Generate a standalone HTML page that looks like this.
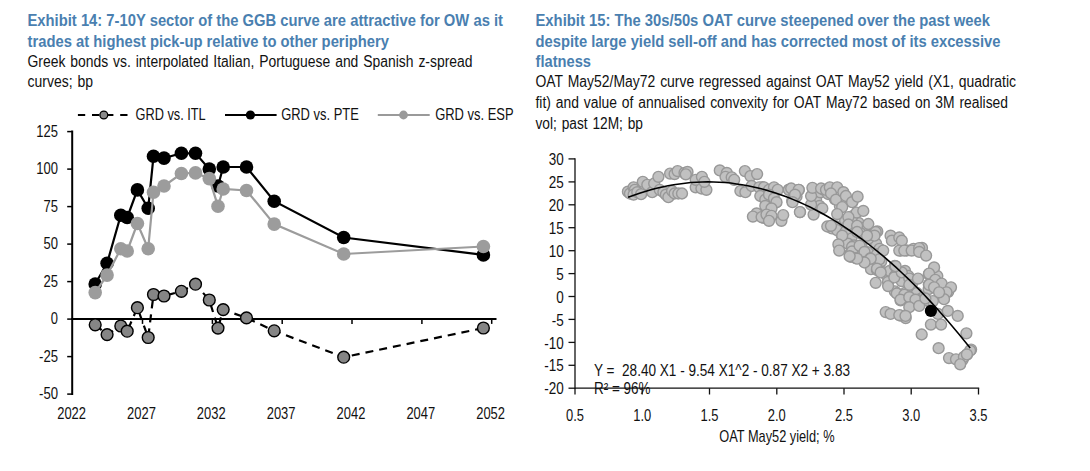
<!DOCTYPE html><html><head><meta charset="utf-8"><title>Exhibits</title><style>
html,body{margin:0;padding:0;background:#fff}
svg{display:block}
text{font-family:"Liberation Sans",sans-serif}
.t{font-weight:bold;fill:#4a7fb0;font-size:16.9px}
.s{fill:#111;font-size:16px;word-spacing:1.2px}
.a{fill:#111;font-size:16.4px}
</style></head><body>
<svg width="1090" height="471" viewBox="0 0 1090 471">
<rect width="1090" height="471" fill="#fff"/>
<text class="t" x="27.5" y="26" textLength="475.5" lengthAdjust="spacingAndGlyphs">Exhibit 14: 7-10Y sector of the GGB curve are attractive for OW as it</text>
<text class="t" x="27.5" y="46.9" textLength="361.5" lengthAdjust="spacingAndGlyphs">trades at highest pick-up relative to other periphery</text>
<text class="s" x="27.5" y="67.2" textLength="445.0" lengthAdjust="spacingAndGlyphs">Greek bonds vs. interpolated Italian, Portuguese and Spanish z-spread</text>
<text class="s" x="27.5" y="86.8" textLength="65.5" lengthAdjust="spacingAndGlyphs">curves; bp</text>
<line x1="77.9" y1="115" x2="128" y2="115" stroke="#000" stroke-width="1.8" stroke-dasharray="7.3 6.8"/>
<circle cx="103.8" cy="115" r="3.9" fill="#8a8a8a" stroke="#000" stroke-width="1.3"/>
<text class="a" x="135.5" y="119.6" textLength="70.2" lengthAdjust="spacingAndGlyphs">GRD vs. ITL</text>
<line x1="225" y1="115" x2="276.6" y2="115" stroke="#000" stroke-width="1.8"/>
<circle cx="250.4" cy="115" r="4.6" fill="#000"/>
<text class="a" x="281.2" y="119.6" textLength="77.6" lengthAdjust="spacingAndGlyphs">GRD vs. PTE</text>
<line x1="377.8" y1="115" x2="429.7" y2="115" stroke="#9a9a9a" stroke-width="1.8"/>
<circle cx="403.5" cy="115" r="4.4" fill="#9a9a9a"/>
<text class="a" x="435.2" y="119.6" textLength="78.4" lengthAdjust="spacingAndGlyphs">GRD vs. ESP</text>
<line x1="72.2" y1="130.60000000000002" x2="72.2" y2="395.1" stroke="#000" stroke-width="2"/>
<line x1="67.2" y1="131.60000000000002" x2="72.2" y2="131.60000000000002" stroke="#000" stroke-width="1.5"/>
<text class="a" x="36.3" y="136.90000000000003" textLength="21.7" lengthAdjust="spacingAndGlyphs">125</text>
<line x1="67.2" y1="169.10000000000002" x2="72.2" y2="169.10000000000002" stroke="#000" stroke-width="1.5"/>
<text class="a" x="36.3" y="174.40000000000003" textLength="21.7" lengthAdjust="spacingAndGlyphs">100</text>
<line x1="67.2" y1="206.60000000000002" x2="72.2" y2="206.60000000000002" stroke="#000" stroke-width="1.5"/>
<text class="a" x="43.5" y="211.90000000000003" textLength="14.5" lengthAdjust="spacingAndGlyphs">75</text>
<line x1="67.2" y1="244.10000000000002" x2="72.2" y2="244.10000000000002" stroke="#000" stroke-width="1.5"/>
<text class="a" x="43.5" y="249.40000000000003" textLength="14.5" lengthAdjust="spacingAndGlyphs">50</text>
<line x1="67.2" y1="281.6" x2="72.2" y2="281.6" stroke="#000" stroke-width="1.5"/>
<text class="a" x="43.5" y="286.90000000000003" textLength="14.5" lengthAdjust="spacingAndGlyphs">25</text>
<line x1="67.2" y1="319.1" x2="72.2" y2="319.1" stroke="#000" stroke-width="1.5"/>
<text class="a" x="50.8" y="324.40000000000003" textLength="7.2" lengthAdjust="spacingAndGlyphs">0</text>
<line x1="67.2" y1="356.6" x2="72.2" y2="356.6" stroke="#000" stroke-width="1.5"/>
<text class="a" x="39.0" y="361.90000000000003" textLength="19.0" lengthAdjust="spacingAndGlyphs">-25</text>
<line x1="67.2" y1="394.1" x2="72.2" y2="394.1" stroke="#000" stroke-width="1.5"/>
<text class="a" x="39.0" y="399.40000000000003" textLength="19.0" lengthAdjust="spacingAndGlyphs">-50</text>
<line x1="71.2" y1="319.1" x2="496.5" y2="319.1" stroke="#000" stroke-width="2"/>
<text class="a" x="57.2" y="419.2" textLength="28.8" lengthAdjust="spacingAndGlyphs">2022</text>
<line x1="142.5" y1="319.1" x2="142.5" y2="323.90000000000003" stroke="#000" stroke-width="1.5"/>
<text class="a" x="127.03500000000003" y="419.2" textLength="28.8" lengthAdjust="spacingAndGlyphs">2027</text>
<line x1="212.4" y1="319.1" x2="212.4" y2="323.90000000000003" stroke="#000" stroke-width="1.5"/>
<text class="a" x="196.87" y="419.2" textLength="28.8" lengthAdjust="spacingAndGlyphs">2032</text>
<line x1="282.2" y1="319.1" x2="282.2" y2="323.90000000000003" stroke="#000" stroke-width="1.5"/>
<text class="a" x="266.705" y="419.2" textLength="28.8" lengthAdjust="spacingAndGlyphs">2037</text>
<line x1="352.0" y1="319.1" x2="352.0" y2="323.90000000000003" stroke="#000" stroke-width="1.5"/>
<text class="a" x="336.54" y="419.2" textLength="28.8" lengthAdjust="spacingAndGlyphs">2042</text>
<line x1="421.9" y1="319.1" x2="421.9" y2="323.90000000000003" stroke="#000" stroke-width="1.5"/>
<text class="a" x="406.375" y="419.2" textLength="28.8" lengthAdjust="spacingAndGlyphs">2047</text>
<line x1="491.7" y1="319.1" x2="491.7" y2="323.90000000000003" stroke="#000" stroke-width="1.5"/>
<text class="a" x="476.21" y="419.2" textLength="28.8" lengthAdjust="spacingAndGlyphs">2052</text>
<polyline points="95.2,324.8 107.1,334.6 120.8,326 127.2,331.2 137.4,307.7 148.2,337.5 153.5,294.5 164,296 181.4,291.3 195.5,284.2 209.3,300 218,328.1 223.2,309.6 246.5,317.9 274.2,330.8 343.7,357.2 483.4,328" fill="none" stroke="#000" stroke-width="2.2" stroke-dasharray="8 6" stroke-dashoffset="13.60"/>
<circle cx="95.2" cy="324.8" r="5.9" fill="#858585" stroke="#000" stroke-width="1.4"/>
<circle cx="107.1" cy="334.6" r="5.9" fill="#858585" stroke="#000" stroke-width="1.4"/>
<circle cx="120.8" cy="326" r="5.9" fill="#858585" stroke="#000" stroke-width="1.4"/>
<circle cx="127.2" cy="331.2" r="5.9" fill="#858585" stroke="#000" stroke-width="1.4"/>
<circle cx="137.4" cy="307.7" r="5.9" fill="#858585" stroke="#000" stroke-width="1.4"/>
<circle cx="148.2" cy="337.5" r="5.9" fill="#858585" stroke="#000" stroke-width="1.4"/>
<circle cx="153.5" cy="294.5" r="5.9" fill="#858585" stroke="#000" stroke-width="1.4"/>
<circle cx="164" cy="296" r="5.9" fill="#858585" stroke="#000" stroke-width="1.4"/>
<circle cx="181.4" cy="291.3" r="5.9" fill="#858585" stroke="#000" stroke-width="1.4"/>
<circle cx="195.5" cy="284.2" r="5.9" fill="#858585" stroke="#000" stroke-width="1.4"/>
<circle cx="209.3" cy="300" r="5.9" fill="#858585" stroke="#000" stroke-width="1.4"/>
<circle cx="218" cy="328.1" r="5.9" fill="#858585" stroke="#000" stroke-width="1.4"/>
<circle cx="223.2" cy="309.6" r="5.9" fill="#858585" stroke="#000" stroke-width="1.4"/>
<circle cx="246.5" cy="317.9" r="5.9" fill="#858585" stroke="#000" stroke-width="1.4"/>
<circle cx="274.2" cy="330.8" r="5.9" fill="#858585" stroke="#000" stroke-width="1.4"/>
<circle cx="343.7" cy="357.2" r="5.9" fill="#858585" stroke="#000" stroke-width="1.4"/>
<circle cx="483.4" cy="328" r="5.9" fill="#858585" stroke="#000" stroke-width="1.4"/>
<polyline points="95.2,284 107.1,263.2 120.8,215.2 127.2,217.5 137.4,189.9 148.2,208.3 153.5,156.3 164,158.1 181.4,153.3 195.5,153.3 209.3,169.1 218,186 223.2,167 246.5,167 274.2,201.2 343.7,237.5 483.4,254.9" fill="none" stroke="#000" stroke-width="2.2" />
<circle cx="95.2" cy="284" r="6.8" fill="#000"/>
<circle cx="107.1" cy="263.2" r="6.8" fill="#000"/>
<circle cx="120.8" cy="215.2" r="6.8" fill="#000"/>
<circle cx="127.2" cy="217.5" r="6.8" fill="#000"/>
<circle cx="137.4" cy="189.9" r="6.8" fill="#000"/>
<circle cx="148.2" cy="208.3" r="6.8" fill="#000"/>
<circle cx="153.5" cy="156.3" r="6.8" fill="#000"/>
<circle cx="164" cy="158.1" r="6.8" fill="#000"/>
<circle cx="181.4" cy="153.3" r="6.8" fill="#000"/>
<circle cx="195.5" cy="153.3" r="6.8" fill="#000"/>
<circle cx="209.3" cy="169.1" r="6.8" fill="#000"/>
<circle cx="218" cy="186" r="6.8" fill="#000"/>
<circle cx="223.2" cy="167" r="6.8" fill="#000"/>
<circle cx="246.5" cy="167" r="6.8" fill="#000"/>
<circle cx="274.2" cy="201.2" r="6.8" fill="#000"/>
<circle cx="343.7" cy="237.5" r="6.8" fill="#000"/>
<circle cx="483.4" cy="254.9" r="6.8" fill="#000"/>
<polyline points="95.2,292.6 107.1,275.1 120.8,248.7 127.2,251 137.4,223.5 148.2,248.7 153.5,192.3 164,186 181.4,173.5 195.5,172.9 209.3,178.6 218,206.2 223.2,189 246.5,190.5 274.2,224.1 343.7,254 483.4,246.5" fill="none" stroke="#9c9c9c" stroke-width="2.2" />
<circle cx="95.2" cy="292.6" r="6.8" fill="#9c9c9c"/>
<circle cx="107.1" cy="275.1" r="6.8" fill="#9c9c9c"/>
<circle cx="120.8" cy="248.7" r="6.8" fill="#9c9c9c"/>
<circle cx="127.2" cy="251" r="6.8" fill="#9c9c9c"/>
<circle cx="137.4" cy="223.5" r="6.8" fill="#9c9c9c"/>
<circle cx="148.2" cy="248.7" r="6.8" fill="#9c9c9c"/>
<circle cx="153.5" cy="192.3" r="6.8" fill="#9c9c9c"/>
<circle cx="164" cy="186" r="6.8" fill="#9c9c9c"/>
<circle cx="181.4" cy="173.5" r="6.8" fill="#9c9c9c"/>
<circle cx="195.5" cy="172.9" r="6.8" fill="#9c9c9c"/>
<circle cx="209.3" cy="178.6" r="6.8" fill="#9c9c9c"/>
<circle cx="218" cy="206.2" r="6.8" fill="#9c9c9c"/>
<circle cx="223.2" cy="189" r="6.8" fill="#9c9c9c"/>
<circle cx="246.5" cy="190.5" r="6.8" fill="#9c9c9c"/>
<circle cx="274.2" cy="224.1" r="6.8" fill="#9c9c9c"/>
<circle cx="343.7" cy="254" r="6.8" fill="#9c9c9c"/>
<circle cx="483.4" cy="246.5" r="6.8" fill="#9c9c9c"/>
<text class="t" x="535.5" y="26" textLength="454.5" lengthAdjust="spacingAndGlyphs">Exhibit 15: The 30s/50s OAT curve steepened over the past week</text>
<text class="t" x="535.5" y="46.9" textLength="465.0" lengthAdjust="spacingAndGlyphs">despite large yield sell-off and has corrected most of its excessive</text>
<text class="t" x="535.5" y="67.2" textLength="55.5" lengthAdjust="spacingAndGlyphs">flatness</text>
<text class="s" x="535.5" y="87.3" textLength="480.5" lengthAdjust="spacingAndGlyphs">OAT May52/May72 curve regressed against OAT May52 yield (X1, quadratic</text>
<text class="s" x="535.5" y="108.4" textLength="472.5" lengthAdjust="spacingAndGlyphs">fit) and value of annualised convexity for OAT May72 based on 3M realised</text>
<text class="s" x="535.5" y="128.8" textLength="107.5" lengthAdjust="spacingAndGlyphs">vol; past 12M; bp</text>
<line x1="575.0" y1="158.25" x2="575.0" y2="388.9" stroke="#111" stroke-width="1.3"/>
<line x1="575.0" y1="388.2" x2="979.2" y2="388.2" stroke="#111" stroke-width="1.3"/>
<line x1="568.5" y1="158.9" x2="575.0" y2="158.9" stroke="#111" stroke-width="1.3"/>
<text class="a" x="548.7" y="165.14999999999998" textLength="15.0" lengthAdjust="spacingAndGlyphs">30</text>
<line x1="568.5" y1="181.9" x2="575.0" y2="181.9" stroke="#111" stroke-width="1.3"/>
<text class="a" x="548.7" y="188.075" textLength="15.0" lengthAdjust="spacingAndGlyphs">25</text>
<line x1="568.5" y1="204.8" x2="575.0" y2="204.8" stroke="#111" stroke-width="1.3"/>
<text class="a" x="548.7" y="211.0" textLength="15.0" lengthAdjust="spacingAndGlyphs">20</text>
<line x1="568.5" y1="227.7" x2="575.0" y2="227.7" stroke="#111" stroke-width="1.3"/>
<text class="a" x="548.7" y="233.92499999999998" textLength="15.0" lengthAdjust="spacingAndGlyphs">15</text>
<line x1="568.5" y1="250.7" x2="575.0" y2="250.7" stroke="#111" stroke-width="1.3"/>
<text class="a" x="548.7" y="256.85" textLength="15.0" lengthAdjust="spacingAndGlyphs">10</text>
<line x1="568.5" y1="273.6" x2="575.0" y2="273.6" stroke="#111" stroke-width="1.3"/>
<text class="a" x="556.2" y="279.775" textLength="7.5" lengthAdjust="spacingAndGlyphs">5</text>
<line x1="568.5" y1="296.5" x2="575.0" y2="296.5" stroke="#111" stroke-width="1.3"/>
<text class="a" x="556.2" y="302.7" textLength="7.5" lengthAdjust="spacingAndGlyphs">0</text>
<line x1="568.5" y1="319.4" x2="575.0" y2="319.4" stroke="#111" stroke-width="1.3"/>
<text class="a" x="551.7" y="325.625" textLength="12.0" lengthAdjust="spacingAndGlyphs">-5</text>
<line x1="568.5" y1="342.4" x2="575.0" y2="342.4" stroke="#111" stroke-width="1.3"/>
<text class="a" x="544.2" y="348.55" textLength="19.5" lengthAdjust="spacingAndGlyphs">-10</text>
<line x1="568.5" y1="365.3" x2="575.0" y2="365.3" stroke="#111" stroke-width="1.3"/>
<text class="a" x="544.2" y="371.47499999999997" textLength="19.5" lengthAdjust="spacingAndGlyphs">-15</text>
<line x1="568.5" y1="388.2" x2="575.0" y2="388.2" stroke="#111" stroke-width="1.3"/>
<text class="a" x="544.2" y="394.4" textLength="19.5" lengthAdjust="spacingAndGlyphs">-20</text>
<line x1="575.0" y1="388.2" x2="575.0" y2="394.5" stroke="#111" stroke-width="1.3"/>
<text class="a" x="566.0" y="420.6" textLength="18.0" lengthAdjust="spacingAndGlyphs">0.5</text>
<line x1="642.2" y1="388.2" x2="642.2" y2="394.5" stroke="#111" stroke-width="1.3"/>
<text class="a" x="633.25" y="420.6" textLength="18.0" lengthAdjust="spacingAndGlyphs">1.0</text>
<line x1="709.5" y1="388.2" x2="709.5" y2="394.5" stroke="#111" stroke-width="1.3"/>
<text class="a" x="700.5" y="420.6" textLength="18.0" lengthAdjust="spacingAndGlyphs">1.5</text>
<line x1="776.8" y1="388.2" x2="776.8" y2="394.5" stroke="#111" stroke-width="1.3"/>
<text class="a" x="767.75" y="420.6" textLength="18.0" lengthAdjust="spacingAndGlyphs">2.0</text>
<line x1="844.0" y1="388.2" x2="844.0" y2="394.5" stroke="#111" stroke-width="1.3"/>
<text class="a" x="835.0" y="420.6" textLength="18.0" lengthAdjust="spacingAndGlyphs">2.5</text>
<line x1="911.2" y1="388.2" x2="911.2" y2="394.5" stroke="#111" stroke-width="1.3"/>
<text class="a" x="902.25" y="420.6" textLength="18.0" lengthAdjust="spacingAndGlyphs">3.0</text>
<line x1="978.5" y1="388.2" x2="978.5" y2="394.5" stroke="#111" stroke-width="1.3"/>
<text class="a" x="969.5" y="420.6" textLength="18.0" lengthAdjust="spacingAndGlyphs">3.5</text>
<text class="a" x="719.3" y="442.4" textLength="115.2" lengthAdjust="spacingAndGlyphs">OAT May52 yield; %</text>
<circle cx="762.5" cy="187.2" r="5.45" fill="#c1c1c1" stroke="#989898" stroke-width="1.4"/>
<circle cx="768.5" cy="190.6" r="5.45" fill="#c1c1c1" stroke="#989898" stroke-width="1.4"/>
<circle cx="765.1" cy="196.5" r="5.45" fill="#c1c1c1" stroke="#989898" stroke-width="1.4"/>
<circle cx="776.1" cy="202.5" r="5.45" fill="#c1c1c1" stroke="#989898" stroke-width="1.4"/>
<circle cx="770.2" cy="205.9" r="5.45" fill="#c1c1c1" stroke="#989898" stroke-width="1.4"/>
<circle cx="766.8" cy="212.7" r="5.45" fill="#c1c1c1" stroke="#989898" stroke-width="1.4"/>
<circle cx="763.4" cy="217.8" r="5.45" fill="#c1c1c1" stroke="#989898" stroke-width="1.4"/>
<circle cx="788.9" cy="189.7" r="5.45" fill="#c1c1c1" stroke="#989898" stroke-width="1.4"/>
<circle cx="792.3" cy="200.8" r="5.45" fill="#c1c1c1" stroke="#989898" stroke-width="1.4"/>
<circle cx="796.5" cy="196.5" r="5.45" fill="#c1c1c1" stroke="#989898" stroke-width="1.4"/>
<circle cx="816.1" cy="199.1" r="5.45" fill="#c1c1c1" stroke="#989898" stroke-width="1.4"/>
<circle cx="820.3" cy="192.3" r="5.45" fill="#c1c1c1" stroke="#989898" stroke-width="1.4"/>
<circle cx="823.7" cy="189.7" r="5.45" fill="#c1c1c1" stroke="#989898" stroke-width="1.4"/>
<circle cx="828.0" cy="194.0" r="5.45" fill="#c1c1c1" stroke="#989898" stroke-width="1.4"/>
<circle cx="834.8" cy="199.1" r="5.45" fill="#c1c1c1" stroke="#989898" stroke-width="1.4"/>
<circle cx="839.9" cy="205.9" r="5.45" fill="#c1c1c1" stroke="#989898" stroke-width="1.4"/>
<circle cx="845.0" cy="200.8" r="5.45" fill="#c1c1c1" stroke="#989898" stroke-width="1.4"/>
<circle cx="852.6" cy="201.6" r="5.45" fill="#c1c1c1" stroke="#989898" stroke-width="1.4"/>
<circle cx="819.5" cy="205.9" r="5.45" fill="#c1c1c1" stroke="#989898" stroke-width="1.4"/>
<circle cx="845.0" cy="221.2" r="5.45" fill="#c1c1c1" stroke="#989898" stroke-width="1.4"/>
<circle cx="848.4" cy="224.6" r="5.45" fill="#c1c1c1" stroke="#989898" stroke-width="1.4"/>
<circle cx="854.3" cy="226.3" r="5.45" fill="#c1c1c1" stroke="#989898" stroke-width="1.4"/>
<circle cx="858.6" cy="222.9" r="5.45" fill="#c1c1c1" stroke="#989898" stroke-width="1.4"/>
<circle cx="862.0" cy="228.0" r="5.45" fill="#c1c1c1" stroke="#989898" stroke-width="1.4"/>
<circle cx="852.6" cy="216.1" r="5.45" fill="#c1c1c1" stroke="#989898" stroke-width="1.4"/>
<circle cx="836.5" cy="226.3" r="5.45" fill="#c1c1c1" stroke="#989898" stroke-width="1.4"/>
<circle cx="841.6" cy="234.8" r="5.45" fill="#c1c1c1" stroke="#989898" stroke-width="1.4"/>
<circle cx="868.8" cy="234.8" r="5.45" fill="#c1c1c1" stroke="#989898" stroke-width="1.4"/>
<circle cx="877.3" cy="231.4" r="5.45" fill="#c1c1c1" stroke="#989898" stroke-width="1.4"/>
<circle cx="831.9" cy="228.4" r="5.45" fill="#c1c1c1" stroke="#989898" stroke-width="1.4"/>
<circle cx="837.0" cy="230.1" r="5.45" fill="#c1c1c1" stroke="#989898" stroke-width="1.4"/>
<circle cx="845.5" cy="231.8" r="5.45" fill="#c1c1c1" stroke="#989898" stroke-width="1.4"/>
<circle cx="851.4" cy="238.6" r="5.45" fill="#c1c1c1" stroke="#989898" stroke-width="1.4"/>
<circle cx="848.0" cy="243.7" r="5.45" fill="#c1c1c1" stroke="#989898" stroke-width="1.4"/>
<circle cx="854.0" cy="245.4" r="5.45" fill="#c1c1c1" stroke="#989898" stroke-width="1.4"/>
<circle cx="850.6" cy="253.0" r="5.45" fill="#c1c1c1" stroke="#989898" stroke-width="1.4"/>
<circle cx="856.5" cy="256.4" r="5.45" fill="#c1c1c1" stroke="#989898" stroke-width="1.4"/>
<circle cx="861.6" cy="247.1" r="5.45" fill="#c1c1c1" stroke="#989898" stroke-width="1.4"/>
<circle cx="867.6" cy="252.2" r="5.45" fill="#c1c1c1" stroke="#989898" stroke-width="1.4"/>
<circle cx="871.0" cy="258.1" r="5.45" fill="#c1c1c1" stroke="#989898" stroke-width="1.4"/>
<circle cx="865.0" cy="257.3" r="5.45" fill="#c1c1c1" stroke="#989898" stroke-width="1.4"/>
<circle cx="871.0" cy="264.1" r="5.45" fill="#c1c1c1" stroke="#989898" stroke-width="1.4"/>
<circle cx="877.8" cy="263.2" r="5.45" fill="#c1c1c1" stroke="#989898" stroke-width="1.4"/>
<circle cx="876.1" cy="243.7" r="5.45" fill="#c1c1c1" stroke="#989898" stroke-width="1.4"/>
<circle cx="879.5" cy="248.8" r="5.45" fill="#c1c1c1" stroke="#989898" stroke-width="1.4"/>
<circle cx="881.2" cy="261.5" r="5.45" fill="#c1c1c1" stroke="#989898" stroke-width="1.4"/>
<circle cx="868.4" cy="238.6" r="5.45" fill="#c1c1c1" stroke="#989898" stroke-width="1.4"/>
<circle cx="872.7" cy="235.2" r="5.45" fill="#c1c1c1" stroke="#989898" stroke-width="1.4"/>
<circle cx="860.8" cy="233.5" r="5.45" fill="#c1c1c1" stroke="#989898" stroke-width="1.4"/>
<circle cx="871.0" cy="269.2" r="5.45" fill="#c1c1c1" stroke="#989898" stroke-width="1.4"/>
<circle cx="876.9" cy="270.0" r="5.45" fill="#c1c1c1" stroke="#989898" stroke-width="1.4"/>
<circle cx="882.0" cy="271.7" r="5.45" fill="#c1c1c1" stroke="#989898" stroke-width="1.4"/>
<circle cx="886.3" cy="275.1" r="5.45" fill="#c1c1c1" stroke="#989898" stroke-width="1.4"/>
<circle cx="888.0" cy="281.9" r="5.45" fill="#c1c1c1" stroke="#989898" stroke-width="1.4"/>
<circle cx="889.7" cy="270.9" r="5.45" fill="#c1c1c1" stroke="#989898" stroke-width="1.4"/>
<circle cx="894.8" cy="276.0" r="5.45" fill="#c1c1c1" stroke="#989898" stroke-width="1.4"/>
<circle cx="899.9" cy="272.6" r="5.45" fill="#c1c1c1" stroke="#989898" stroke-width="1.4"/>
<circle cx="905.0" cy="270.9" r="5.45" fill="#c1c1c1" stroke="#989898" stroke-width="1.4"/>
<circle cx="908.4" cy="276.0" r="5.45" fill="#c1c1c1" stroke="#989898" stroke-width="1.4"/>
<circle cx="901.6" cy="281.1" r="5.45" fill="#c1c1c1" stroke="#989898" stroke-width="1.4"/>
<circle cx="911.8" cy="284.5" r="5.45" fill="#c1c1c1" stroke="#989898" stroke-width="1.4"/>
<circle cx="894.8" cy="265.8" r="5.45" fill="#c1c1c1" stroke="#989898" stroke-width="1.4"/>
<circle cx="894.8" cy="291.3" r="5.45" fill="#c1c1c1" stroke="#989898" stroke-width="1.4"/>
<circle cx="899.0" cy="294.7" r="5.45" fill="#c1c1c1" stroke="#989898" stroke-width="1.4"/>
<circle cx="905.0" cy="293.0" r="5.45" fill="#c1c1c1" stroke="#989898" stroke-width="1.4"/>
<circle cx="911.8" cy="296.4" r="5.45" fill="#c1c1c1" stroke="#989898" stroke-width="1.4"/>
<circle cx="916.9" cy="293.0" r="5.45" fill="#c1c1c1" stroke="#989898" stroke-width="1.4"/>
<circle cx="922.0" cy="298.1" r="5.45" fill="#c1c1c1" stroke="#989898" stroke-width="1.4"/>
<circle cx="917.7" cy="299.8" r="5.45" fill="#c1c1c1" stroke="#989898" stroke-width="1.4"/>
<circle cx="928.8" cy="274.3" r="5.45" fill="#c1c1c1" stroke="#989898" stroke-width="1.4"/>
<circle cx="933.0" cy="279.4" r="5.45" fill="#c1c1c1" stroke="#989898" stroke-width="1.4"/>
<circle cx="937.3" cy="276.0" r="5.45" fill="#c1c1c1" stroke="#989898" stroke-width="1.4"/>
<circle cx="928.8" cy="284.5" r="5.45" fill="#c1c1c1" stroke="#989898" stroke-width="1.4"/>
<circle cx="939.0" cy="284.5" r="5.45" fill="#c1c1c1" stroke="#989898" stroke-width="1.4"/>
<circle cx="900.7" cy="250.5" r="5.45" fill="#c1c1c1" stroke="#989898" stroke-width="1.4"/>
<circle cx="906.7" cy="250.5" r="5.45" fill="#c1c1c1" stroke="#989898" stroke-width="1.4"/>
<circle cx="913.5" cy="248.8" r="5.45" fill="#c1c1c1" stroke="#989898" stroke-width="1.4"/>
<circle cx="922.0" cy="247.9" r="5.45" fill="#c1c1c1" stroke="#989898" stroke-width="1.4"/>
<circle cx="897.2" cy="293.5" r="5.45" fill="#c1c1c1" stroke="#989898" stroke-width="1.4"/>
<circle cx="900.6" cy="300.3" r="5.45" fill="#c1c1c1" stroke="#989898" stroke-width="1.4"/>
<circle cx="904.0" cy="295.2" r="5.45" fill="#c1c1c1" stroke="#989898" stroke-width="1.4"/>
<circle cx="910.8" cy="298.6" r="5.45" fill="#c1c1c1" stroke="#989898" stroke-width="1.4"/>
<circle cx="915.9" cy="302.0" r="5.45" fill="#c1c1c1" stroke="#989898" stroke-width="1.4"/>
<circle cx="926.1" cy="300.3" r="5.45" fill="#c1c1c1" stroke="#989898" stroke-width="1.4"/>
<circle cx="932.9" cy="301.1" r="5.45" fill="#c1c1c1" stroke="#989898" stroke-width="1.4"/>
<circle cx="938.0" cy="313.9" r="5.45" fill="#c1c1c1" stroke="#989898" stroke-width="1.4"/>
<circle cx="905.7" cy="318.1" r="5.45" fill="#c1c1c1" stroke="#989898" stroke-width="1.4"/>
<circle cx="900.6" cy="315.6" r="5.45" fill="#c1c1c1" stroke="#989898" stroke-width="1.4"/>
<circle cx="928.6" cy="289.2" r="5.45" fill="#c1c1c1" stroke="#989898" stroke-width="1.4"/>
<circle cx="934.6" cy="287.5" r="5.45" fill="#c1c1c1" stroke="#989898" stroke-width="1.4"/>
<circle cx="941.4" cy="290.1" r="5.45" fill="#c1c1c1" stroke="#989898" stroke-width="1.4"/>
<circle cx="948.2" cy="291.8" r="5.45" fill="#c1c1c1" stroke="#989898" stroke-width="1.4"/>
<circle cx="971.1" cy="349.6" r="5.45" fill="#c1c1c1" stroke="#989898" stroke-width="1.4"/>
<circle cx="966.9" cy="354.7" r="5.45" fill="#c1c1c1" stroke="#989898" stroke-width="1.4"/>
<circle cx="962.6" cy="359.8" r="5.45" fill="#c1c1c1" stroke="#989898" stroke-width="1.4"/>
<circle cx="627.9" cy="191.7" r="5.45" fill="#c1c1c1" stroke="#989898" stroke-width="1.4"/>
<circle cx="629.9" cy="193.5" r="5.45" fill="#c1c1c1" stroke="#989898" stroke-width="1.4"/>
<circle cx="633.6" cy="187.3" r="5.45" fill="#c1c1c1" stroke="#989898" stroke-width="1.4"/>
<circle cx="634.8" cy="189.8" r="5.45" fill="#c1c1c1" stroke="#989898" stroke-width="1.4"/>
<circle cx="633.6" cy="194.7" r="5.45" fill="#c1c1c1" stroke="#989898" stroke-width="1.4"/>
<circle cx="637.3" cy="192.2" r="5.45" fill="#c1c1c1" stroke="#989898" stroke-width="1.4"/>
<circle cx="641.1" cy="194.2" r="5.45" fill="#c1c1c1" stroke="#989898" stroke-width="1.4"/>
<circle cx="642.8" cy="181.8" r="5.45" fill="#c1c1c1" stroke="#989898" stroke-width="1.4"/>
<circle cx="647.3" cy="184.8" r="5.45" fill="#c1c1c1" stroke="#989898" stroke-width="1.4"/>
<circle cx="652.2" cy="192.2" r="5.45" fill="#c1c1c1" stroke="#989898" stroke-width="1.4"/>
<circle cx="654.2" cy="183.5" r="5.45" fill="#c1c1c1" stroke="#989898" stroke-width="1.4"/>
<circle cx="658.4" cy="176.8" r="5.45" fill="#c1c1c1" stroke="#989898" stroke-width="1.4"/>
<circle cx="659.7" cy="189.8" r="5.45" fill="#c1c1c1" stroke="#989898" stroke-width="1.4"/>
<circle cx="663.4" cy="192.2" r="5.45" fill="#c1c1c1" stroke="#989898" stroke-width="1.4"/>
<circle cx="665.9" cy="194.7" r="5.45" fill="#c1c1c1" stroke="#989898" stroke-width="1.4"/>
<circle cx="668.4" cy="197.2" r="5.45" fill="#c1c1c1" stroke="#989898" stroke-width="1.4"/>
<circle cx="672.1" cy="191.0" r="5.45" fill="#c1c1c1" stroke="#989898" stroke-width="1.4"/>
<circle cx="674.6" cy="193.5" r="5.45" fill="#c1c1c1" stroke="#989898" stroke-width="1.4"/>
<circle cx="678.3" cy="193.5" r="5.45" fill="#c1c1c1" stroke="#989898" stroke-width="1.4"/>
<circle cx="682.0" cy="193.5" r="5.45" fill="#c1c1c1" stroke="#989898" stroke-width="1.4"/>
<circle cx="670.1" cy="173.6" r="5.45" fill="#c1c1c1" stroke="#989898" stroke-width="1.4"/>
<circle cx="674.6" cy="174.1" r="5.45" fill="#c1c1c1" stroke="#989898" stroke-width="1.4"/>
<circle cx="677.6" cy="171.1" r="5.45" fill="#c1c1c1" stroke="#989898" stroke-width="1.4"/>
<circle cx="684.5" cy="172.9" r="5.45" fill="#c1c1c1" stroke="#989898" stroke-width="1.4"/>
<circle cx="687.5" cy="171.9" r="5.45" fill="#c1c1c1" stroke="#989898" stroke-width="1.4"/>
<circle cx="685.8" cy="174.3" r="5.45" fill="#c1c1c1" stroke="#989898" stroke-width="1.4"/>
<circle cx="695.7" cy="187.3" r="5.45" fill="#c1c1c1" stroke="#989898" stroke-width="1.4"/>
<circle cx="701.4" cy="188.5" r="5.45" fill="#c1c1c1" stroke="#989898" stroke-width="1.4"/>
<circle cx="706.4" cy="189.8" r="5.45" fill="#c1c1c1" stroke="#989898" stroke-width="1.4"/>
<circle cx="695.7" cy="179.8" r="5.45" fill="#c1c1c1" stroke="#989898" stroke-width="1.4"/>
<circle cx="701.9" cy="176.8" r="5.45" fill="#c1c1c1" stroke="#989898" stroke-width="1.4"/>
<circle cx="704.4" cy="181.8" r="5.45" fill="#c1c1c1" stroke="#989898" stroke-width="1.4"/>
<circle cx="719.8" cy="170.4" r="5.45" fill="#c1c1c1" stroke="#989898" stroke-width="1.4"/>
<circle cx="726.8" cy="172.9" r="5.45" fill="#c1c1c1" stroke="#989898" stroke-width="1.4"/>
<circle cx="725.5" cy="176.8" r="5.45" fill="#c1c1c1" stroke="#989898" stroke-width="1.4"/>
<circle cx="731.7" cy="177.3" r="5.45" fill="#c1c1c1" stroke="#989898" stroke-width="1.4"/>
<circle cx="734.2" cy="179.8" r="5.45" fill="#c1c1c1" stroke="#989898" stroke-width="1.4"/>
<circle cx="744.9" cy="171.1" r="5.45" fill="#c1c1c1" stroke="#989898" stroke-width="1.4"/>
<circle cx="750.4" cy="176.1" r="5.45" fill="#c1c1c1" stroke="#989898" stroke-width="1.4"/>
<circle cx="757.1" cy="174.1" r="5.45" fill="#c1c1c1" stroke="#989898" stroke-width="1.4"/>
<circle cx="740.4" cy="191.0" r="5.45" fill="#c1c1c1" stroke="#989898" stroke-width="1.4"/>
<circle cx="745.4" cy="192.2" r="5.45" fill="#c1c1c1" stroke="#989898" stroke-width="1.4"/>
<circle cx="751.6" cy="186.0" r="5.45" fill="#c1c1c1" stroke="#989898" stroke-width="1.4"/>
<circle cx="759.1" cy="187.3" r="5.45" fill="#c1c1c1" stroke="#989898" stroke-width="1.4"/>
<circle cx="764.0" cy="187.3" r="5.45" fill="#c1c1c1" stroke="#989898" stroke-width="1.4"/>
<circle cx="769.0" cy="189.8" r="5.45" fill="#c1c1c1" stroke="#989898" stroke-width="1.4"/>
<circle cx="774.0" cy="187.3" r="5.45" fill="#c1c1c1" stroke="#989898" stroke-width="1.4"/>
<circle cx="777.7" cy="189.8" r="5.45" fill="#c1c1c1" stroke="#989898" stroke-width="1.4"/>
<circle cx="760.3" cy="196.0" r="5.45" fill="#c1c1c1" stroke="#989898" stroke-width="1.4"/>
<circle cx="765.3" cy="199.7" r="5.45" fill="#c1c1c1" stroke="#989898" stroke-width="1.4"/>
<circle cx="769.0" cy="194.7" r="5.45" fill="#c1c1c1" stroke="#989898" stroke-width="1.4"/>
<circle cx="774.0" cy="198.4" r="5.45" fill="#c1c1c1" stroke="#989898" stroke-width="1.4"/>
<circle cx="776.5" cy="202.2" r="5.45" fill="#c1c1c1" stroke="#989898" stroke-width="1.4"/>
<circle cx="765.3" cy="205.9" r="5.45" fill="#c1c1c1" stroke="#989898" stroke-width="1.4"/>
<circle cx="771.5" cy="208.4" r="5.45" fill="#c1c1c1" stroke="#989898" stroke-width="1.4"/>
<circle cx="756.6" cy="213.4" r="5.45" fill="#c1c1c1" stroke="#989898" stroke-width="1.4"/>
<circle cx="752.9" cy="216.6" r="5.45" fill="#c1c1c1" stroke="#989898" stroke-width="1.4"/>
<circle cx="761.6" cy="217.1" r="5.45" fill="#c1c1c1" stroke="#989898" stroke-width="1.4"/>
<circle cx="766.5" cy="214.6" r="5.45" fill="#c1c1c1" stroke="#989898" stroke-width="1.4"/>
<circle cx="771.5" cy="215.8" r="5.45" fill="#c1c1c1" stroke="#989898" stroke-width="1.4"/>
<circle cx="769.0" cy="220.8" r="5.45" fill="#c1c1c1" stroke="#989898" stroke-width="1.4"/>
<circle cx="781.4" cy="220.8" r="5.45" fill="#c1c1c1" stroke="#989898" stroke-width="1.4"/>
<circle cx="783.2" cy="215.1" r="5.45" fill="#c1c1c1" stroke="#989898" stroke-width="1.4"/>
<circle cx="788.9" cy="189.8" r="5.45" fill="#c1c1c1" stroke="#989898" stroke-width="1.4"/>
<circle cx="793.9" cy="192.2" r="5.45" fill="#c1c1c1" stroke="#989898" stroke-width="1.4"/>
<circle cx="798.8" cy="189.8" r="5.45" fill="#c1c1c1" stroke="#989898" stroke-width="1.4"/>
<circle cx="795.1" cy="194.7" r="5.45" fill="#c1c1c1" stroke="#989898" stroke-width="1.4"/>
<circle cx="792.6" cy="200.9" r="5.45" fill="#c1c1c1" stroke="#989898" stroke-width="1.4"/>
<circle cx="800.1" cy="212.1" r="5.45" fill="#c1c1c1" stroke="#989898" stroke-width="1.4"/>
<circle cx="791.2" cy="188.5" r="5.45" fill="#c1c1c1" stroke="#989898" stroke-width="1.4"/>
<circle cx="798.7" cy="189.8" r="5.45" fill="#c1c1c1" stroke="#989898" stroke-width="1.4"/>
<circle cx="795.0" cy="194.7" r="5.45" fill="#c1c1c1" stroke="#989898" stroke-width="1.4"/>
<circle cx="792.5" cy="202.2" r="5.45" fill="#c1c1c1" stroke="#989898" stroke-width="1.4"/>
<circle cx="799.9" cy="212.1" r="5.45" fill="#c1c1c1" stroke="#989898" stroke-width="1.4"/>
<circle cx="813.6" cy="214.6" r="5.45" fill="#c1c1c1" stroke="#989898" stroke-width="1.4"/>
<circle cx="811.1" cy="204.7" r="5.45" fill="#c1c1c1" stroke="#989898" stroke-width="1.4"/>
<circle cx="811.1" cy="196.0" r="5.45" fill="#c1c1c1" stroke="#989898" stroke-width="1.4"/>
<circle cx="812.4" cy="187.8" r="5.45" fill="#c1c1c1" stroke="#989898" stroke-width="1.4"/>
<circle cx="821.1" cy="188.5" r="5.45" fill="#c1c1c1" stroke="#989898" stroke-width="1.4"/>
<circle cx="826.0" cy="189.8" r="5.45" fill="#c1c1c1" stroke="#989898" stroke-width="1.4"/>
<circle cx="829.8" cy="187.3" r="5.45" fill="#c1c1c1" stroke="#989898" stroke-width="1.4"/>
<circle cx="837.2" cy="187.3" r="5.45" fill="#c1c1c1" stroke="#989898" stroke-width="1.4"/>
<circle cx="831.0" cy="193.5" r="5.45" fill="#c1c1c1" stroke="#989898" stroke-width="1.4"/>
<circle cx="836.0" cy="199.7" r="5.45" fill="#c1c1c1" stroke="#989898" stroke-width="1.4"/>
<circle cx="843.4" cy="192.2" r="5.45" fill="#c1c1c1" stroke="#989898" stroke-width="1.4"/>
<circle cx="845.9" cy="196.0" r="5.45" fill="#c1c1c1" stroke="#989898" stroke-width="1.4"/>
<circle cx="852.1" cy="202.2" r="5.45" fill="#c1c1c1" stroke="#989898" stroke-width="1.4"/>
<circle cx="857.6" cy="196.7" r="5.45" fill="#c1c1c1" stroke="#989898" stroke-width="1.4"/>
<circle cx="842.2" cy="207.1" r="5.45" fill="#c1c1c1" stroke="#989898" stroke-width="1.4"/>
<circle cx="822.3" cy="208.4" r="5.45" fill="#c1c1c1" stroke="#989898" stroke-width="1.4"/>
<circle cx="837.2" cy="214.1" r="5.45" fill="#c1c1c1" stroke="#989898" stroke-width="1.4"/>
<circle cx="856.6" cy="212.6" r="5.45" fill="#c1c1c1" stroke="#989898" stroke-width="1.4"/>
<circle cx="863.3" cy="210.9" r="5.45" fill="#c1c1c1" stroke="#989898" stroke-width="1.4"/>
<circle cx="848.4" cy="217.1" r="5.45" fill="#c1c1c1" stroke="#989898" stroke-width="1.4"/>
<circle cx="827.3" cy="226.5" r="5.45" fill="#c1c1c1" stroke="#989898" stroke-width="1.4"/>
<circle cx="831.0" cy="225.8" r="5.45" fill="#c1c1c1" stroke="#989898" stroke-width="1.4"/>
<circle cx="842.2" cy="235.7" r="5.45" fill="#c1c1c1" stroke="#989898" stroke-width="1.4"/>
<circle cx="848.4" cy="224.5" r="5.45" fill="#c1c1c1" stroke="#989898" stroke-width="1.4"/>
<circle cx="857.1" cy="225.8" r="5.45" fill="#c1c1c1" stroke="#989898" stroke-width="1.4"/>
<circle cx="868.3" cy="224.0" r="5.45" fill="#c1c1c1" stroke="#989898" stroke-width="1.4"/>
<circle cx="875.7" cy="232.0" r="5.45" fill="#c1c1c1" stroke="#989898" stroke-width="1.4"/>
<circle cx="874.5" cy="235.7" r="5.45" fill="#c1c1c1" stroke="#989898" stroke-width="1.4"/>
<circle cx="867.0" cy="235.7" r="5.45" fill="#c1c1c1" stroke="#989898" stroke-width="1.4"/>
<circle cx="857.1" cy="232.0" r="5.45" fill="#c1c1c1" stroke="#989898" stroke-width="1.4"/>
<circle cx="838.4" cy="244.4" r="5.45" fill="#c1c1c1" stroke="#989898" stroke-width="1.4"/>
<circle cx="839.2" cy="250.6" r="5.45" fill="#c1c1c1" stroke="#989898" stroke-width="1.4"/>
<circle cx="852.1" cy="246.9" r="5.45" fill="#c1c1c1" stroke="#989898" stroke-width="1.4"/>
<circle cx="852.1" cy="251.4" r="5.45" fill="#c1c1c1" stroke="#989898" stroke-width="1.4"/>
<circle cx="859.6" cy="245.7" r="5.45" fill="#c1c1c1" stroke="#989898" stroke-width="1.4"/>
<circle cx="850.9" cy="256.8" r="5.45" fill="#c1c1c1" stroke="#989898" stroke-width="1.4"/>
<circle cx="855.8" cy="258.1" r="5.45" fill="#c1c1c1" stroke="#989898" stroke-width="1.4"/>
<circle cx="864.5" cy="251.9" r="5.45" fill="#c1c1c1" stroke="#989898" stroke-width="1.4"/>
<circle cx="870.7" cy="258.1" r="5.45" fill="#c1c1c1" stroke="#989898" stroke-width="1.4"/>
<circle cx="864.5" cy="261.8" r="5.45" fill="#c1c1c1" stroke="#989898" stroke-width="1.4"/>
<circle cx="877.0" cy="254.3" r="5.45" fill="#c1c1c1" stroke="#989898" stroke-width="1.4"/>
<circle cx="883.2" cy="250.6" r="5.45" fill="#c1c1c1" stroke="#989898" stroke-width="1.4"/>
<circle cx="879.4" cy="259.3" r="5.45" fill="#c1c1c1" stroke="#989898" stroke-width="1.4"/>
<circle cx="890.6" cy="235.7" r="5.45" fill="#c1c1c1" stroke="#989898" stroke-width="1.4"/>
<circle cx="891.9" cy="240.7" r="5.45" fill="#c1c1c1" stroke="#989898" stroke-width="1.4"/>
<circle cx="899.3" cy="237.5" r="5.45" fill="#c1c1c1" stroke="#989898" stroke-width="1.4"/>
<circle cx="901.8" cy="240.7" r="5.45" fill="#c1c1c1" stroke="#989898" stroke-width="1.4"/>
<circle cx="899.3" cy="250.6" r="5.45" fill="#c1c1c1" stroke="#989898" stroke-width="1.4"/>
<circle cx="904.3" cy="250.6" r="5.45" fill="#c1c1c1" stroke="#989898" stroke-width="1.4"/>
<circle cx="911.7" cy="250.6" r="5.45" fill="#c1c1c1" stroke="#989898" stroke-width="1.4"/>
<circle cx="919.2" cy="248.1" r="5.45" fill="#c1c1c1" stroke="#989898" stroke-width="1.4"/>
<circle cx="919.2" cy="251.9" r="5.45" fill="#c1c1c1" stroke="#989898" stroke-width="1.4"/>
<circle cx="926.1" cy="255.6" r="5.45" fill="#c1c1c1" stroke="#989898" stroke-width="1.4"/>
<circle cx="870.7" cy="258.7" r="5.45" fill="#c1c1c1" stroke="#989898" stroke-width="1.4"/>
<circle cx="864.5" cy="262.5" r="5.45" fill="#c1c1c1" stroke="#989898" stroke-width="1.4"/>
<circle cx="857.1" cy="258.7" r="5.45" fill="#c1c1c1" stroke="#989898" stroke-width="1.4"/>
<circle cx="849.6" cy="256.2" r="5.45" fill="#c1c1c1" stroke="#989898" stroke-width="1.4"/>
<circle cx="877.0" cy="268.7" r="5.45" fill="#c1c1c1" stroke="#989898" stroke-width="1.4"/>
<circle cx="880.7" cy="272.4" r="5.45" fill="#c1c1c1" stroke="#989898" stroke-width="1.4"/>
<circle cx="875.7" cy="282.8" r="5.45" fill="#c1c1c1" stroke="#989898" stroke-width="1.4"/>
<circle cx="888.1" cy="286.1" r="5.45" fill="#c1c1c1" stroke="#989898" stroke-width="1.4"/>
<circle cx="894.3" cy="277.4" r="5.45" fill="#c1c1c1" stroke="#989898" stroke-width="1.4"/>
<circle cx="901.8" cy="272.4" r="5.45" fill="#c1c1c1" stroke="#989898" stroke-width="1.4"/>
<circle cx="895.6" cy="266.2" r="5.45" fill="#c1c1c1" stroke="#989898" stroke-width="1.4"/>
<circle cx="909.3" cy="278.6" r="5.45" fill="#c1c1c1" stroke="#989898" stroke-width="1.4"/>
<circle cx="909.3" cy="284.8" r="5.45" fill="#c1c1c1" stroke="#989898" stroke-width="1.4"/>
<circle cx="918.0" cy="278.6" r="5.45" fill="#c1c1c1" stroke="#989898" stroke-width="1.4"/>
<circle cx="896.8" cy="293.5" r="5.45" fill="#c1c1c1" stroke="#989898" stroke-width="1.4"/>
<circle cx="904.3" cy="294.8" r="5.45" fill="#c1c1c1" stroke="#989898" stroke-width="1.4"/>
<circle cx="900.6" cy="299.7" r="5.45" fill="#c1c1c1" stroke="#989898" stroke-width="1.4"/>
<circle cx="909.3" cy="297.2" r="5.45" fill="#c1c1c1" stroke="#989898" stroke-width="1.4"/>
<circle cx="915.5" cy="299.7" r="5.45" fill="#c1c1c1" stroke="#989898" stroke-width="1.4"/>
<circle cx="909.3" cy="307.2" r="5.45" fill="#c1c1c1" stroke="#989898" stroke-width="1.4"/>
<circle cx="919.2" cy="305.9" r="5.45" fill="#c1c1c1" stroke="#989898" stroke-width="1.4"/>
<circle cx="925.4" cy="298.5" r="5.45" fill="#c1c1c1" stroke="#989898" stroke-width="1.4"/>
<circle cx="885.7" cy="312.1" r="5.45" fill="#c1c1c1" stroke="#989898" stroke-width="1.4"/>
<circle cx="890.6" cy="313.9" r="5.45" fill="#c1c1c1" stroke="#989898" stroke-width="1.4"/>
<circle cx="899.3" cy="315.1" r="5.45" fill="#c1c1c1" stroke="#989898" stroke-width="1.4"/>
<circle cx="905.5" cy="315.9" r="5.45" fill="#c1c1c1" stroke="#989898" stroke-width="1.4"/>
<circle cx="934.1" cy="267.4" r="5.45" fill="#c1c1c1" stroke="#989898" stroke-width="1.4"/>
<circle cx="929.1" cy="273.6" r="5.45" fill="#c1c1c1" stroke="#989898" stroke-width="1.4"/>
<circle cx="935.3" cy="279.8" r="5.45" fill="#c1c1c1" stroke="#989898" stroke-width="1.4"/>
<circle cx="941.6" cy="283.6" r="5.45" fill="#c1c1c1" stroke="#989898" stroke-width="1.4"/>
<circle cx="929.1" cy="284.8" r="5.45" fill="#c1c1c1" stroke="#989898" stroke-width="1.4"/>
<circle cx="934.1" cy="287.3" r="5.45" fill="#c1c1c1" stroke="#989898" stroke-width="1.4"/>
<circle cx="951.0" cy="287.3" r="5.45" fill="#c1c1c1" stroke="#989898" stroke-width="1.4"/>
<circle cx="946.5" cy="292.3" r="5.45" fill="#c1c1c1" stroke="#989898" stroke-width="1.4"/>
<circle cx="944.0" cy="299.2" r="5.45" fill="#c1c1c1" stroke="#989898" stroke-width="1.4"/>
<circle cx="939.1" cy="292.3" r="5.45" fill="#c1c1c1" stroke="#989898" stroke-width="1.4"/>
<circle cx="947.8" cy="310.9" r="5.45" fill="#c1c1c1" stroke="#989898" stroke-width="1.4"/>
<circle cx="957.7" cy="315.9" r="5.45" fill="#c1c1c1" stroke="#989898" stroke-width="1.4"/>
<circle cx="930.9" cy="324.6" r="5.45" fill="#c1c1c1" stroke="#989898" stroke-width="1.4"/>
<circle cx="941.1" cy="324.6" r="5.45" fill="#c1c1c1" stroke="#989898" stroke-width="1.4"/>
<circle cx="921.7" cy="334.5" r="5.45" fill="#c1c1c1" stroke="#989898" stroke-width="1.4"/>
<circle cx="966.4" cy="333.3" r="5.45" fill="#c1c1c1" stroke="#989898" stroke-width="1.4"/>
<circle cx="938.6" cy="348.2" r="5.45" fill="#c1c1c1" stroke="#989898" stroke-width="1.4"/>
<circle cx="970.1" cy="350.7" r="5.45" fill="#c1c1c1" stroke="#989898" stroke-width="1.4"/>
<circle cx="949.0" cy="358.1" r="5.45" fill="#c1c1c1" stroke="#989898" stroke-width="1.4"/>
<circle cx="956.0" cy="359.3" r="5.45" fill="#c1c1c1" stroke="#989898" stroke-width="1.4"/>
<circle cx="963.9" cy="356.9" r="5.45" fill="#c1c1c1" stroke="#989898" stroke-width="1.4"/>
<circle cx="966.9" cy="354.4" r="5.45" fill="#c1c1c1" stroke="#989898" stroke-width="1.4"/>
<circle cx="960.2" cy="364.3" r="5.45" fill="#c1c1c1" stroke="#989898" stroke-width="1.4"/>
<polyline points="628.1,197.3 633.8,195.2 639.5,193.2 645.2,191.4 650.9,189.8 656.6,188.3 662.3,186.9 668.0,185.7 673.7,184.7 679.4,183.9 685.1,183.2 690.8,182.6 696.5,182.2 702.2,182.0 707.9,181.9 713.6,182.0 719.3,182.2 725.0,182.6 730.7,183.1 736.4,183.9 742.1,184.7 747.8,185.7 753.5,186.9 759.2,188.3 764.9,189.7 770.6,191.4 776.3,193.2 782.0,195.2 787.7,197.3 793.4,199.6 799.1,202.0 804.8,204.6 810.5,207.3 816.2,210.3 821.9,213.3 827.6,216.5 833.3,219.9 839.0,223.4 844.7,227.1 850.4,231.0 856.1,235.0 861.9,239.2 867.6,243.5 873.3,248.0 879.0,252.6 884.7,257.4 890.4,262.3 896.1,267.4 901.8,272.7 907.5,278.1 913.2,283.7 918.9,289.4 924.6,295.3 930.3,301.4 936.0,307.6 941.7,314.0 947.4,320.5 953.1,327.2 958.8,334.0 964.5,341.0 970.2,348.1" fill="none" stroke="#000" stroke-width="1.55"/>
<circle cx="930.9" cy="310.9" r="6.1" fill="#000"/>
<text class="a" x="594" y="376.4" textLength="256.0" lengthAdjust="spacingAndGlyphs">Y =  28.40 X1 - 9.54 X1^2 - 0.87 X2 + 3.83</text>
<text class="a" x="594" y="394.3" textLength="56.5" lengthAdjust="spacingAndGlyphs">R² = 96%</text>
</svg></body></html>
